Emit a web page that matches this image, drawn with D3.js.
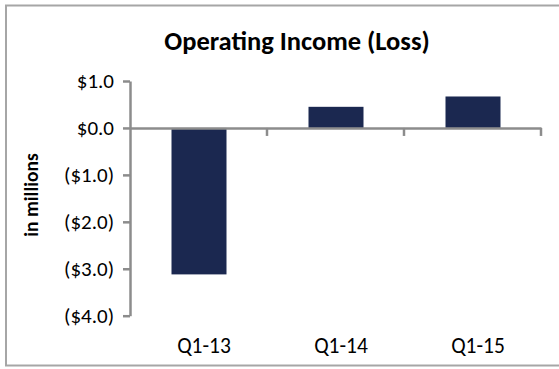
<!DOCTYPE html>
<html>
<head>
<meta charset="utf-8">
<script src="https://cdn.jsdelivr.net/npm/d3@7"></script>
<style>
  html, body { margin: 0; padding: 0; background: #fff; }
  svg { display: block; }
</style>
</head>
<body>
<script>
const categories = ["Q1-13", "Q1-14", "Q1-15"];
const values = [-3.12, 0.45, 0.67];
const tickValues = [1, 0, -1, -2, -3, -4];
const tickLabels = ["$1.0", "$0.0", "($1.0)", "($2.0)", "($3.0)", "($4.0)"];
const title = "Operating Income (Loss)";
const yTitle = "in millions";

const W = 559, H = 369;
const svg = d3.select("body").append("svg").attr("width", W).attr("height", H);
const font = "Carlito, Calibri, 'Open Sans', sans-serif";

// frame
svg.append("rect").attr("x", 6).attr("y", 5.5).attr("width", 560).attr("height", 360)
  .attr("fill", "#fff").attr("stroke", "#a6a6a6").attr("stroke-width", 2);

const plot = { left: 130, right: 541, top: 81, bottom: 315.7 };
const y = d3.scaleLinear().domain([-4, 1]).range([plot.bottom, plot.top]);
const x = d3.scaleBand().domain(categories).range([plot.left, plot.right]).paddingInner(0).paddingOuter(0);

const barW = 55;
const barColor = "#1b2850";

svg.append("g").selectAll("rect").data(values).enter().append("rect")
  .attr("x", (d, i) => x(categories[i]) + x.bandwidth() / 2 - barW / 2 + 0.5)
  .attr("y", d => y(Math.max(0, d)))
  .attr("width", barW)
  .attr("height", d => Math.abs(y(d) - y(0)))
  .attr("fill", barColor);

const axisColor = "#8c8c8c";

// y axis
const yAxis = d3.axisLeft(y).tickValues(tickValues)
  .tickFormat((d, i) => tickLabels[i]).tickSizeInner(7).tickSizeOuter(0).tickPadding(9);
const gy = svg.append("g").attr("transform", `translate(${plot.left},0)`).call(yAxis);
gy.select(".domain").attr("stroke", axisColor).attr("stroke-width", 2.5);
gy.selectAll(".tick line").attr("stroke", axisColor).attr("stroke-width", 2.5);
gy.selectAll(".tick text").attr("font-family", font).attr("font-size", 21).attr("fill", "#000");

// x axis at zero
const xAxis = d3.axisBottom(x).tickSize(0).tickFormat("");
const gx = svg.append("g").attr("transform", `translate(0,${y(0)})`).call(xAxis);
gx.select(".domain").attr("stroke", axisColor).attr("stroke-width", 2.5);
// boundary ticks
const bounds = categories.map(c => x(c) + x.bandwidth());
gx.selectAll(".bt").data(bounds).enter().append("line")
  .attr("x1", d => d).attr("x2", d => d).attr("y1", 0).attr("y2", 8)
  .attr("stroke", axisColor).attr("stroke-width", 2.5);

// category labels (bottom)
svg.append("g").selectAll("text").data(categories).enter().append("text")
  .attr("x", d => x(d) + x.bandwidth() / 2 + 5.5)
  .attr("y", 353)
  .attr("text-anchor", "middle")
  .attr("font-family", font).attr("font-size", 21.5).attr("fill", "#000")
  .text(d => d);

// title
svg.append("text").attr("x", 297).attr("y", 50)
  .attr("text-anchor", "middle").attr("font-family", font)
  .attr("font-weight", "bold").attr("font-size", 26.5).attr("fill", "#000")
  .text(title);

// y title
svg.append("text").attr("transform", "translate(38,195) rotate(-90)")
  .attr("text-anchor", "middle").attr("font-family", font)
  .attr("font-weight", "bold").attr("font-size", 19.5).attr("fill", "#000")
  .text(yTitle);
</script>
</body>
</html>
